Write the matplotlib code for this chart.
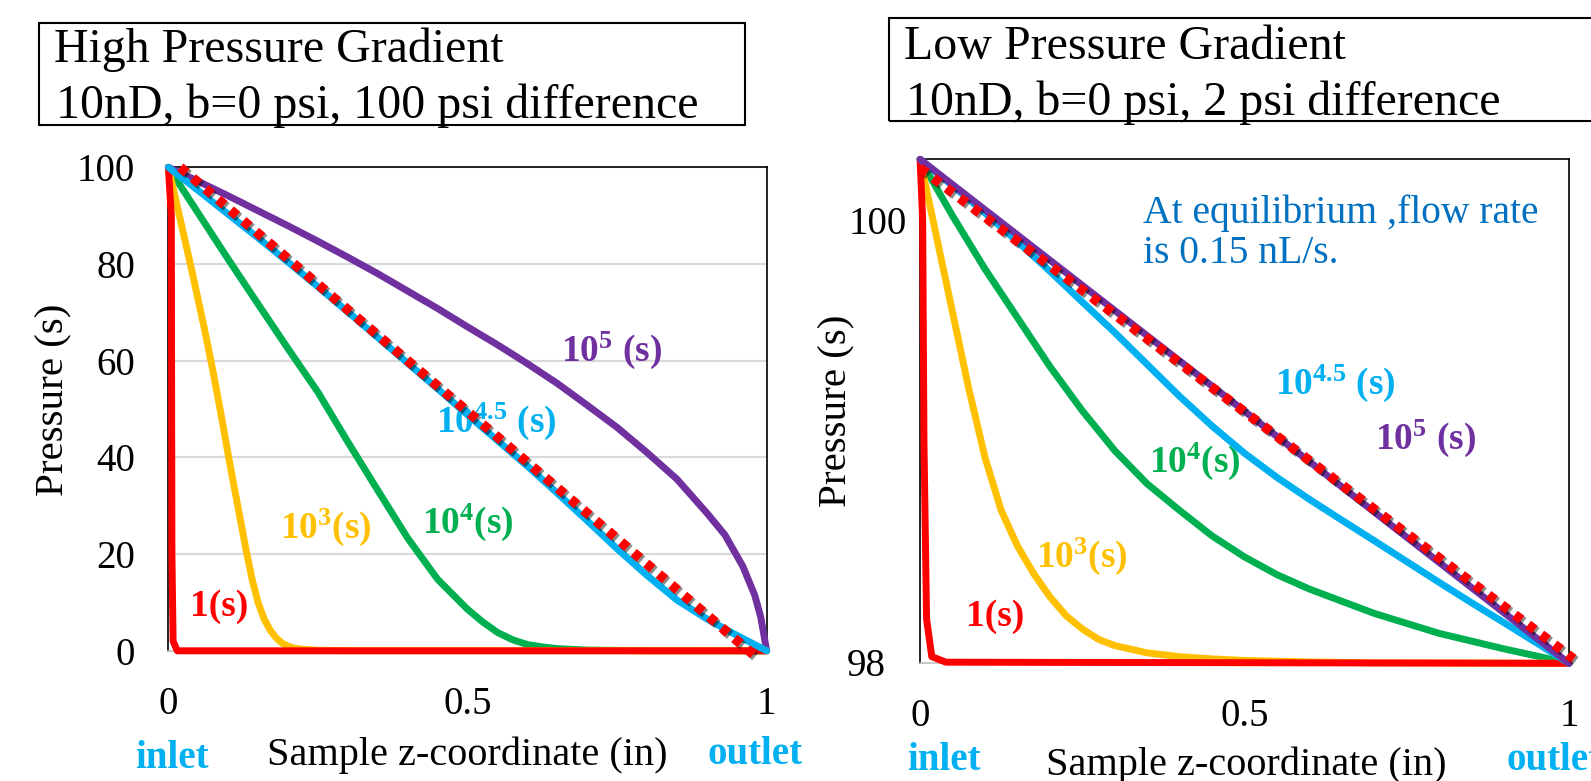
import matplotlib
matplotlib.use("Agg")
import matplotlib.pyplot as plt
import matplotlib.patheffects as pe
from matplotlib.patches import Rectangle

plt.rcParams['font.family'] = ['Liberation Serif', 'DejaVu Serif']
plt.rcParams['mathtext.fontset'] = 'custom'
plt.rcParams['mathtext.rm'] = 'Liberation Serif'
plt.rcParams['mathtext.bf'] = 'Liberation Serif:bold'
plt.rcParams['mathtext.it'] = 'Liberation Serif:italic'

# ---- high pressure gradient (100 psi difference) ----
hi_red_x = [0, 0.005, 0.006, 0.008, 0.015, 1.0]
hi_red_y = [100, 90, 20, 2, 0, 0]
hi_yellow_x = [0, 0.02, 0.04, 0.06, 0.075, 0.09, 0.1, 0.11, 0.12, 0.13, 0.14, 0.15, 0.16,
               0.17, 0.18, 0.19, 0.2, 0.21, 0.225, 0.25, 0.3, 1.0]
hi_yellow_y = [100, 89.2, 78.2, 66.8, 57.6, 47.6, 40.6, 33.9, 27.4, 20.8, 14.8, 10.0, 6.6,
               4.3, 2.7, 1.6, 0.95, 0.55, 0.3, 0.12, 0.02, 0]
hi_green_x = [0, 0.05, 0.1, 0.15, 0.2, 0.25, 0.3, 0.35, 0.4, 0.45, 0.5, 0.525, 0.55, 0.575,
              0.6, 0.625, 0.65, 0.7, 0.8, 1.0]
hi_green_y = [100, 90.5, 81, 71.7, 62.5, 53.5, 43.2, 33.2, 23.3, 14.8, 8.6, 6.0, 3.8, 2.3,
              1.3, 0.8, 0.45, 0.15, 0.02, 0]
hi_cyan_x = [0, 0.05, 0.1, 0.15, 0.2, 0.25, 0.3, 0.35, 0.4, 0.45, 0.5, 0.55, 0.6, 0.65,
             0.7, 0.75, 0.8, 0.85, 0.9, 0.95, 1.0]
hi_cyan_y = [100, 95.2, 90.3, 85.4, 80.4, 75.3, 70.1, 64.8, 59.5, 54.2, 48.8, 43.5, 38.2,
             32.6, 26.9, 21.1, 15.6, 10.5, 6.6, 3.2, 0]
hi_purple_x = [0, 0.05, 0.1, 0.15, 0.2, 0.25, 0.3, 0.35, 0.4, 0.45, 0.5, 0.55, 0.6, 0.65,
               0.7, 0.75, 0.8, 0.85, 0.9, 0.93, 0.96, 0.98, 0.99, 1.0]
hi_purple_y = [100, 97.1, 94.1, 91.0, 87.9, 84.7, 81.4, 78.0, 74.4, 70.8, 67.0, 63.3, 59.4,
               55.3, 50.8, 46.2, 41.0, 35.5, 28.5, 24.0, 17.5, 11.5, 7.0, 0]
hi_steady_x = [0.02, 0.98]
hi_steady_y = [100, -1]

# ---- low pressure gradient (2 psi difference) ----
lo_red_x = [0, 0.004, 0.006, 0.01, 0.018, 0.04, 1.0]
lo_red_y = [100.275, 100.0, 99.0, 98.2, 98.03, 98.005, 98.0]
lo_yellow_x = [0, 0.025, 0.05, 0.075, 0.1, 0.125, 0.15, 0.175, 0.2, 0.225, 0.25, 0.275,
               0.3, 0.35, 0.4, 0.45, 0.5, 0.6, 0.7, 1.0]
lo_yellow_y = [100.275, 99.93, 99.585, 99.24, 98.93, 98.69, 98.53, 98.405, 98.30, 98.215,
               98.155, 98.108, 98.08, 98.047, 98.03, 98.02, 98.013, 98.006, 98.002, 98.0]
lo_green_x = [0, 0.05, 0.1, 0.15, 0.2, 0.25, 0.3, 0.35, 0.4, 0.45, 0.5, 0.55, 0.6, 0.65,
              0.7, 0.75, 0.8, 0.85, 0.9, 0.95, 1.0]
lo_green_y = [100.275, 100.02, 99.78, 99.56, 99.34, 99.14, 98.96, 98.81, 98.69, 98.575,
              98.48, 98.40, 98.335, 98.28, 98.225, 98.18, 98.135, 98.10, 98.065, 98.033, 98.0]
lo_cyan_x = [0, 0.05, 0.1, 0.15, 0.2, 0.25, 0.3, 0.35, 0.4, 0.45, 0.5, 0.55, 0.6, 0.65,
             0.7, 0.75, 0.8, 0.85, 0.9, 0.95, 1.0]
lo_cyan_y = [100.275, 100.156, 100.033, 99.904, 99.770, 99.631, 99.493, 99.349, 99.205,
             99.071, 98.948, 98.839, 98.740, 98.646, 98.553, 98.459, 98.365, 98.273,
             98.183, 98.092, 98.0]
lo_purple_x = [0, 1.0]
lo_purple_y = [100.275, 98.0]
lo_steady_x = [0, 1.007]
lo_steady_y = [100.235, 98.02]

colors = {'red': '#FF0000', 'yellow': '#FFC000', 'green': '#00B050',
          'cyan': '#00B0F0', 'purple': '#7030A0'}

hi_labels = [(r'$\mathbf{10^{5}}$ (s)', 'purple', 0.657, 62.2),
             (r'$\mathbf{10^{4.5}}$ (s)', 'cyan', 0.447, 47.4),
             (r'$\mathbf{10^{3}}$(s)', 'yellow', 0.187, 25.6),
             (r'$\mathbf{10^{4}}$(s)', 'green', 0.4235, 26.6),
             ('1(s)', 'red', 0.036, 9.1)]
lo_labels = [(r'$\mathbf{10^{4.5}}$ (s)', 'cyan', 0.547, 99.264),
             (r'$\mathbf{10^{5}}$ (s)', 'purple', 0.701, 99.016),
             (r'$\mathbf{10^{4}}$(s)', 'green', 0.352, 98.91),
             (r'$\mathbf{10^{3}}$(s)', 'yellow', 0.179, 98.481),
             ('1(s)', 'red', 0.070, 98.21)]

fig = plt.figure(figsize=(15.91, 7.81), dpi=100)
ax1 = fig.add_axes([0.1058, 0.1667, 0.3761, 0.6191])
ax2 = fig.add_axes([0.5783, 0.1507, 0.4079, 0.6453])

lw = 5.0
shadow = [pe.SimpleLineShadow(offset=(1.5, -1.5), shadow_color='k', alpha=0.45), pe.Normal()]


def draw_curves(ax, series, steady):
    for (x, y, c) in series:
        ax.plot(x, y, color=colors[c], lw=lw, solid_joinstyle='round',
                solid_capstyle='round', clip_on=False, zorder=3)
    # steady-state straight line, red dotted
    ax.plot(steady[0], steady[1], color='#FF0000', lw=7, linestyle=(0, (0.85, 0.85)),
            dash_capstyle='butt', clip_on=False, zorder=4, path_effects=shadow)


draw_curves(ax1, [(hi_purple_x, hi_purple_y, 'purple'), (hi_green_x, hi_green_y, 'green'),
                  (hi_yellow_x, hi_yellow_y, 'yellow'), (hi_red_x, hi_red_y, 'red'),
                  (hi_cyan_x, hi_cyan_y, 'cyan')], (hi_steady_x, hi_steady_y))
draw_curves(ax2, [(lo_green_x, lo_green_y, 'green'), (lo_yellow_x, lo_yellow_y, 'yellow'),
                  (lo_red_x, lo_red_y, 'red'), (lo_cyan_x, lo_cyan_y, 'cyan'),
                  (lo_purple_x, lo_purple_y, 'purple')], (lo_steady_x, lo_steady_y))

for ax, labels in ((ax1, hi_labels), (ax2, lo_labels)):
    for txt, c, x, y in labels:
        ax.text(x, y, txt, color=colors[c], fontsize=27, fontweight='bold',
                ha='left', va='center', zorder=2)

# axes styling
ax1.set_xlim(0, 1)
ax1.set_ylim(0, 100)
ax1.set_yticks([0, 20, 40, 60, 80, 100])
ax1.set_xticks([0, 0.5, 1], ['0', '0.5', '1'])
ax1.yaxis.grid(True, color='#D9D9D9', lw=1.5)
ax1.set_axisbelow(True)
ax1.tick_params(axis='y', length=0, pad=24, labelsize=28)
ax1.tick_params(axis='x', length=0, pad=25, labelsize=28)

ax2.set_xlim(0, 1)
ax2.set_ylim(98, 100.275)
ax2.set_yticks([100], ['100'])
ax2.set_xticks([0, 0.5, 1], ['0', '0.5', '1'])
ax2.tick_params(axis='y', length=0, pad=9.5, labelsize=28)
ax2.tick_params(axis='x', length=0, pad=25, labelsize=28)
ax2.text(-0.0524, 97.986, '98', transform=ax2.get_yaxis_transform(),
         ha='right', va='center', fontsize=28)

for ax in (ax1, ax2):
    for s in ax.spines.values():
        s.set_color('black')
        s.set_linewidth(1.2)
    ax.spines['bottom'].set_color('#BFBFBF')

ax2.text(0.344, 100.033, 'At equilibrium ,flow rate', color='#0070C0', fontsize=28.5,
         ha='left', va='center')
ax2.text(0.344, 99.85, 'is 0.15 nL/s.', color='#0070C0', fontsize=28.5,
         ha='left', va='center')

# axis titles and inlet/outlet marks
fig.text(53.5 / 1591, 0.488, 'Pressure (s)', rotation=90, fontsize=29.5, ha='center', va='center')
fig.text(837 / 1591, 0.474, 'Pressure (s)', rotation=90, fontsize=29.5, ha='center', va='center')
fig.text(467 / 1591, (781 - 755) / 781, 'Sample z-coordinate (in)', fontsize=29, ha='center', va='center')
fig.text(1246 / 1591, (781 - 765) / 781, 'Sample z-coordinate (in)', fontsize=29, ha='center', va='center')
fig.text(172 / 1591, (781 - 758) / 781, 'inlet', color='#00B0F0', fontsize=28,
         fontweight='bold', ha='center', va='center')
fig.text(755 / 1591, (781 - 755) / 781, 'outlet', color='#00B0F0', fontsize=28,
         fontweight='bold', ha='center', va='center')
fig.text(944 / 1591, (781 - 760) / 781, 'inlet', color='#00B0F0', fontsize=28,
         fontweight='bold', ha='center', va='center')
fig.text(1507 / 1591, (781 - 760) / 781, 'outlet', color='#00B0F0', fontsize=28,
         fontweight='bold', ha='left', va='center')

# title boxes
fig.patches.append(Rectangle((0.0247, 0.840), 0.4436, 0.131, transform=fig.transFigure,
                             fill=False, edgecolor='black', lw=1.5))
fig.patches.append(Rectangle((0.559, 0.8455), 0.45, 0.1311, transform=fig.transFigure,
                             fill=False, edgecolor='black', lw=1.5))
fig.text(0.0337, 0.921, 'High Pressure Gradient', fontsize=34.5, va='baseline')
fig.text(0.0352, 0.8485, '10nD, b=0 psi, 100 psi difference', fontsize=34.5, va='baseline')
fig.text(0.5679, 0.9241, 'Low Pressure Gradient', fontsize=34.5, va='baseline')
fig.text(0.5695, 0.8528, '10nD, b=0 psi, 2 psi difference', fontsize=34.5, va='baseline')

fig.savefig('out.png', dpi=100)
